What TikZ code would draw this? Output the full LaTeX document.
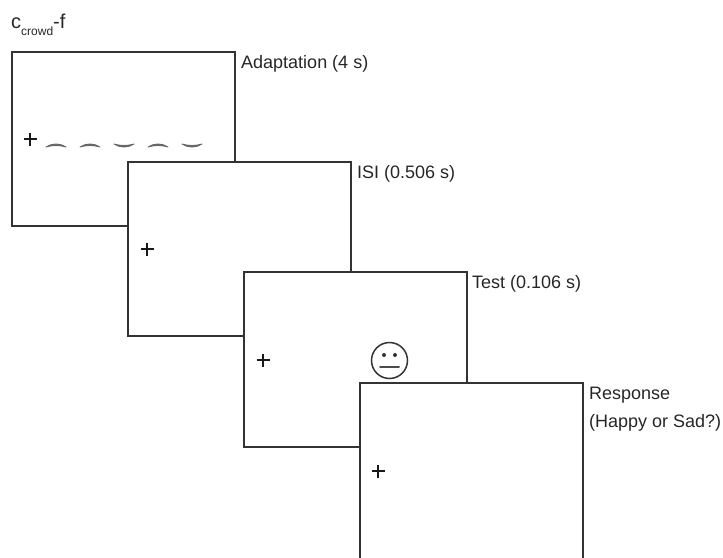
\documentclass[tikz,border=0pt]{standalone}
\usepackage{fontspec}
\setmainfont{Liberation Sans}
\tikzset{
  px/.style={x=1pt,y=-1pt},
  screen/.style={draw=black!80,line width=1.7pt,fill=white},
  lab/.style={anchor=west,inner sep=0pt,font=\fontsize{18}{20}\selectfont,text=black!85},
  fixmark/.style={draw=black!90,line width=1.5pt},
  mouth/.style={fill=black!60,draw=black!60,line width=0.9pt,line join=round},
}
\newcommand{\fixcross}[2]{\draw[fixmark] (#1-6.5,#2) -- (#1+6.5,#2) (#1,#2-6.5) -- (#1,#2+6.5);}
\newcommand{\sadarc}[1]{\draw[mouth] (#1,147) .. controls (#1+6,143) and (#1+14,143) .. (#1+20,147) .. controls (#1+14,145) and (#1+6,145) .. (#1,147) -- cycle;}
\newcommand{\gladarc}[1]{\draw[mouth] (#1,144) .. controls (#1+6,148) and (#1+14,148) .. (#1+20,144) .. controls (#1+14,146) and (#1+6,146) .. (#1,144) -- cycle;}
\begin{document}
\begin{tikzpicture}[px]
\useasboundingbox (0,0) rectangle (723,557);
\clip (0,0) rectangle (723,557);
\node[lab,anchor=base west,font=\fontsize{20}{22}\selectfont] (title) at (11,28) {c\raisebox{-7pt}{\fontsize{12}{12}\selectfont crowd}-f};
\draw[screen] (12,52) rectangle (235,226);
\node[lab] (l1) at (241,63.5) {Adaptation (4 s)};
\fixcross{30}{139}
\sadarc{46}
\sadarc{80}
\gladarc{114}
\sadarc{148}
\gladarc{182}
\draw[screen] (128,162) rectangle (351,336);
\node[lab] (l2) at (357,173.5) {ISI (0.506 s)};
\fixcross{147}{249}
\draw[screen] (244,272) rectangle (467,447);
\node[lab] (l3) at (472,283.5) {Test (0.106 s)};
\fixcross{263}{360}
\draw[black!80,line width=1.5pt] (389.5,360.5) circle (18);
\fill[black!80] (384,355) circle (2) (395,355) circle (2);
\draw[black!70,line width=2pt,line cap=round] (380,366.5) -- (399,366.5);
\draw[screen] (360,383) rectangle (583,570);
\node[lab] (l4) at (589,395.5) {Response};
\node[lab] (l5) at (589,422.5) {(Happy or Sad?)};
\fixcross{378}{471}
\end{tikzpicture}
\end{document}
